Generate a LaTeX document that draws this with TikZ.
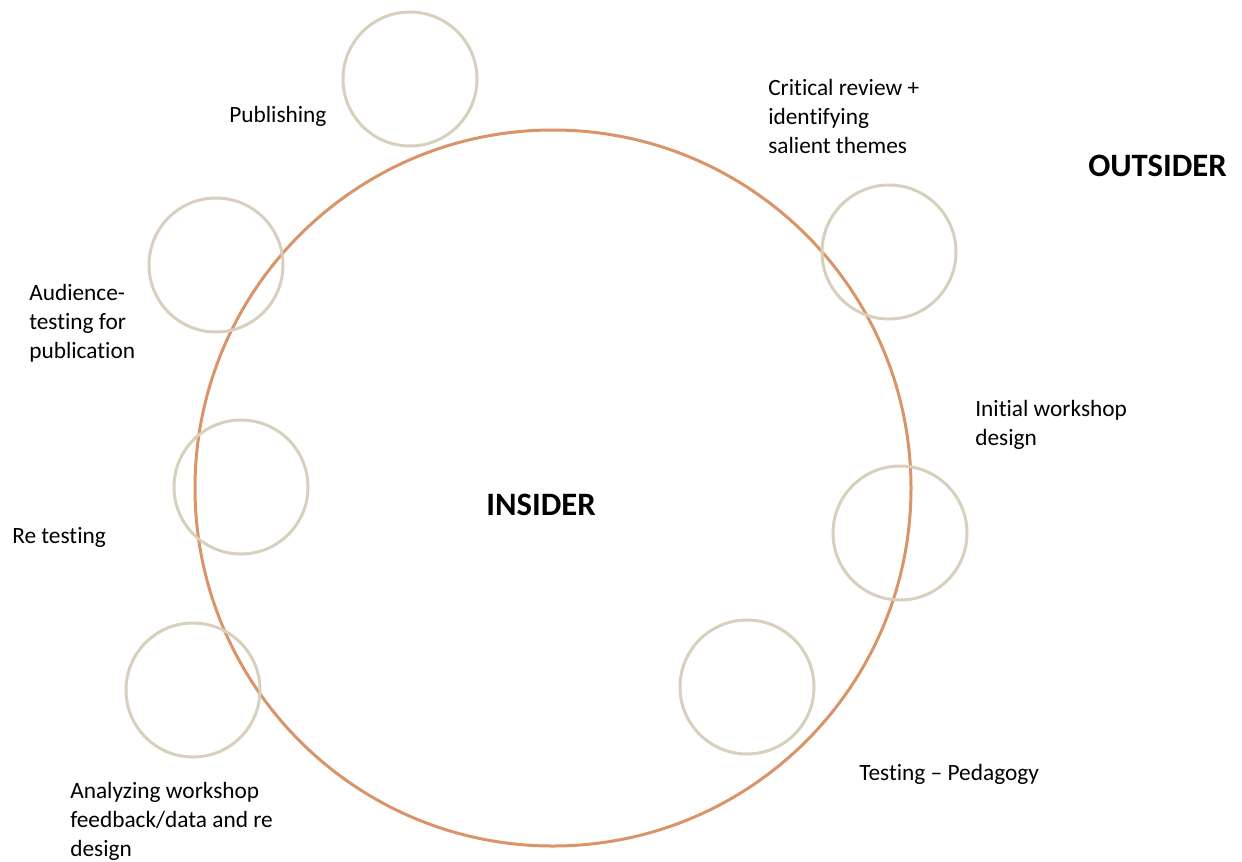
\documentclass[tikz,border=0pt]{standalone}
\usepackage{fontspec}
\setmainfont{Carlito}[Ligatures=NoCommon]
\begin{document}
\begin{tikzpicture}[x=0.75pt,y=-0.75pt,
  ring/.style={circle,draw=ringcol,line width=2.25pt,minimum size=100.5pt,inner sep=0pt},
  bigring/.style={circle,draw=bigcol,line width=2.25pt,minimum size=537pt,inner sep=0pt},
  lbl/.style={anchor=base west,align=left,inner sep=0pt,font=\fontsize{17.5}{21.75}\selectfont},
  head/.style={inner sep=0pt,font=\fontsize{24.5}{29}\selectfont\bfseries}]
\definecolor{ringcol}{HTML}{D8D0BC}
\definecolor{bigcol}{HTML}{D9946A}
\useasboundingbox (0,0) rectangle (1242,861);

% central insider circle
\node[bigring] (core) at (553,488) {};

% stage circles around the rim
\node[ring] (pub)  at (410,79)  {};
\node[ring] (crit) at (889,252) {};
\node[ring] (aud)  at (216,265) {};
\node[ring] (ret)  at (241,487) {};
\node[ring] (init) at (900,533) {};
\node[ring] (ana)  at (193,690) {};
\node[ring] (ped)  at (747,687) {};

% stage labels (anchored at the baseline of their last line)
\node[lbl] (tpub)  at (229,122) {Publishing};
\node[lbl] (tcrit) at (768,153) {Critical review +\\identifying\\salient themes};
\node[lbl] (taud)  at (29,358)  {Audience-\\testing for\\publication};
\node[lbl] (tinit) at (975,445) {Initial workshop\\design};
\node[lbl] (tret)  at (12,543)  {Re testing};
\node[lbl] (tana)  at (70,856)  {Analyzing workshop\\feedback/data and re\\design};
\node[lbl] (tped)  at (859,780) {Testing – Pedagogy};

% zone headings
\node[head] (ins) at (541,505) {INSIDER};
\node[head,anchor=west] (outs) at (1088,166) {OUTSIDER};
\end{tikzpicture}
\end{document}
